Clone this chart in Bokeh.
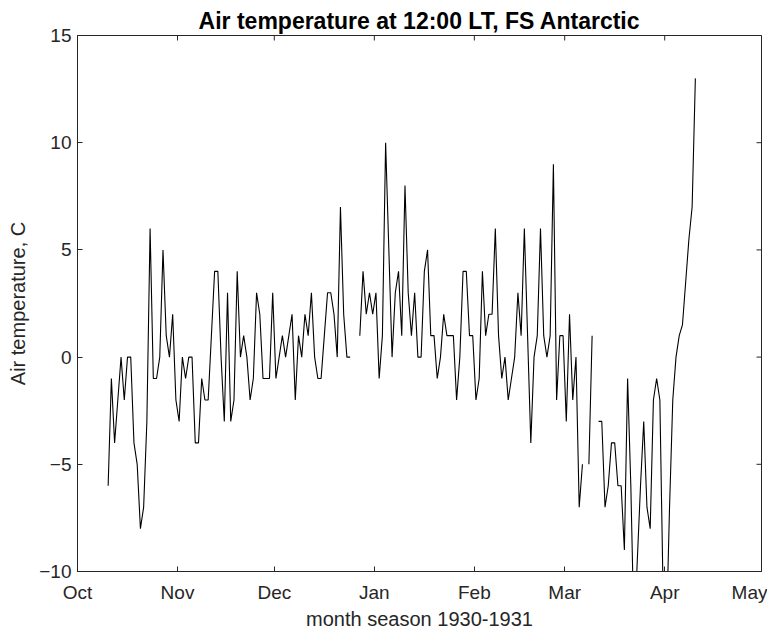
import numpy as np
import pandas as pd
from bokeh.plotting import figure
from bokeh.models import Range1d, FixedTicker, DatetimeTickFormatter, ColumnDataSource
from bokeh.embed import file_html
from bokeh.resources import INLINE

# ---------------- data ----------------
first_day = "1930-10-10"          # first observation (daily at 12:00 LT)
temps = [
    # Oct 10 - Oct 31
    -6, -1, -4, -2, 0, -2, 0, 0, -4, -5, -8, -7, -3, 6, -1, -1, 0, 5, 1, 0, 2, -2,
    # Nov 1 - Nov 30
    -3, 0, -1, 0, 0, -4, -4, -1, -2, -2, 1, 4, 4, 0, -3, 3, -3, -2, 4, 0,
    1, 0, -2, -1, 3, 2, -1, -1, -1, 3,
    # Dec 1 - Dec 31
    -1, 0, 1, 0, 1, 2, -2, 1, 0, 2, 1, 3, 0, -1, -1, 1, 3, 3, 2, 0,
    7, 2, 0, 0, None, None, 1, 4, 2, 3, 2,
    # Jan 1 - Jan 31
    3, -1, 1, 10, 5, 0, 3, 4, 1, 8, 3, 1, 3, 0, 0, 4, 5, 1, 1, -1,
    0, 2, 1, 1, 1, -2, 0, 4, 4, 1, 1,
    # Feb 1 - Feb 28
    -2, -1, 4, 1, 2, 2, 6, 1, -1, 0, -2, -1, 0, 3, 1, 6, 1, -4, 0, 1,
    6, 1, 0, 1, 9, -2, 1, 1,
    # Mar 1 - Mar 31
    -3, 2, -2, 0, -7, -5, None, -5, 1, None, -3, -3, -7, -6, -4, -4, -6, -6, -9, -1,
    -6, -13, -9.5, -6, -3, -7, -8, -2, -1, -2, -11,
    # Apr 1 - Apr 10
    -13, -7, -2, 0, 1, 1.5, 3.5, 5.5, 7, 13,
]
month_starts = ["1930-10-01", "1930-11-01", "1930-12-01", "1931-01-01",
                "1931-02-01", "1931-03-01", "1931-04-01", "1931-05-01"]
y_ticks = [-10, -5, 0, 5, 10, 15]
y_min, y_max = -10, 15

# ---------------- build ----------------
dates = pd.date_range(first_day, periods=len(temps), freq="D") + pd.Timedelta(hours=12)
vals = np.array([np.nan if v is None else v for v in temps], dtype=float)
src = ColumnDataSource(dict(t=dates, v=vals))

def to_ms(s):
    return (pd.Timestamp(s) - pd.Timestamp("1970-01-01")) // pd.Timedelta(milliseconds=1)

tick_ms = [to_ms(s) for s in month_starts]
x_start, x_end = tick_ms[0], tick_ms[-1]

FONT = "Liberation Sans"
DARK = "#262626"

p = figure(width=767, height=634, x_axis_type="datetime",
           output_backend="svg", toolbar_location=None,
           x_range=Range1d(x_start, x_end),
           y_range=Range1d(y_min, y_max),
           min_border_left=77, min_border_right=6,
           min_border_top=35, min_border_bottom=63)

p.line("t", "v", source=src, line_color="black", line_width=1.1)

# inward ticks on the top and right edges of the box
p.ray(x=tick_ms, y=[y_max] * len(tick_ms), length=5, length_units="screen",
      angle=-np.pi / 2, line_color=DARK, line_width=1)
p.ray(x=[x_end] * len(y_ticks), y=y_ticks, length=5, length_units="screen",
      angle=np.pi, line_color=DARK, line_width=1)

p.xgrid.visible = False
p.ygrid.visible = False
p.outline_line_color = DARK
p.outline_line_width = 1
p.background_fill_color = "white"
p.border_fill_color = "white"

fmt = DatetimeTickFormatter(microseconds="%b", milliseconds="%b", seconds="%b",
                            minsec="%b", minutes="%b", hourmin="%b", hours="%b",
                            days="%b", months="%b", years="%b")

xa = p.xaxis[0]
xa.ticker = FixedTicker(ticks=tick_ms)
xa.formatter = fmt
ya = p.yaxis[0]
ya.ticker = FixedTicker(ticks=y_ticks)

for ax in (xa, ya):
    ax.major_tick_in = 5
    ax.major_tick_out = 0
    ax.minor_tick_line_color = None
    ax.axis_line_color = DARK
    ax.major_tick_line_color = DARK
    ax.major_label_text_font = FONT
    ax.major_label_text_font_size = "19px"
    ax.major_label_text_color = DARK
    ax.axis_label_text_font = FONT
    ax.axis_label_text_font_size = "20px"
    ax.axis_label_text_font_style = "normal"
    ax.axis_label_text_color = DARK

xa.axis_label = "month season 1930-1931"
xa.major_label_standoff = 10
xa.axis_label_standoff = 2
ya.axis_label = "Air temperature, C"
ya.major_label_standoff = 6
ya.axis_label_standoff = 7

p.title.text = "Air temperature at 12:00 LT, FS Antarctic"
p.title.align = "center"
p.title.vertical_align = "top"
p.title.text_font = FONT
p.title.text_font_size = "23px"
p.title.text_font_style = "bold"
p.title.text_color = "black"
p.title.standoff = 0

open("out.html", "w").write(file_html(p, INLINE))
